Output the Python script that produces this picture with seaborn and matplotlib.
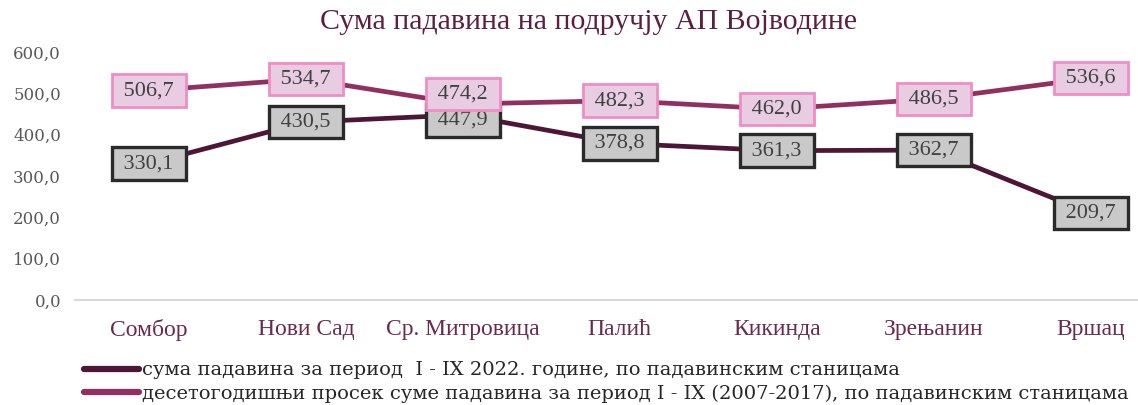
import matplotlib
matplotlib.use('Agg')
import matplotlib.pyplot as plt
import seaborn as sns
import pandas as pd

cities = ['Сомбор', 'Нови Сад', 'Ср. Митровица', 'Палић', 'Кикинда', 'Зрењанин', 'Вршац']
sum_2022 = [330.1, 430.5, 447.9, 378.8, 361.3, 362.7, 209.7]
avg_10y = [506.7, 534.7, 474.2, 482.3, 462.0, 486.5, 536.6]
label_2022 = 'сума падавина за период  I - IX 2022. године, по падавинским станицама'
label_avg = 'десетогодишњи просек суме падавина за период I - IX (2007-2017), по падавинским станицама'
title = 'Сума падавина на подручју АП Војводине'
yticks = [0, 100, 200, 300, 400, 500, 600]

df = pd.DataFrame({
    'city': cities * 2,
    'value': sum_2022 + avg_10y,
    'series': [label_2022] * len(cities) + [label_avg] * len(cities),
})

sns.set_style('white')
plt.rcParams['font.family'] = ['Liberation Serif', 'DejaVu Serif']

colors = {label_2022: '#4f1537', label_avg: '#912f60'}

def fmt(v):
    return f'{v:.1f}'.replace('.', ',')

fig = plt.figure(figsize=(11.38, 4.05), dpi=100)
ax = fig.add_axes([75 / 1138, 1 - 300 / 405, 1 - 75 / 1138, 248 / 405])

sns.lineplot(data=df, x='city', y='value', hue='series', palette=colors,
             linewidth=3.4, sort=False, ax=ax, legend=False)

ax.set_xlim(-0.47, 6.3)
ax.set_ylim(0, 600)
ax.set_yticks(yticks)
ax.set_yticklabels([fmt(v) for v in yticks], fontsize=12, color='#595959',
                   family='DejaVu Serif')
ax.set_xticks(range(len(cities)))
ax.set_xticklabels(cities, fontsize=17, color='#6b2a4d')
ax.tick_params(axis='x', length=0, pad=14)
ax.tick_params(axis='y', length=0, pad=10)
ax.set_xlabel('')
ax.set_ylabel('')
for side in ['top', 'right', 'left']:
    ax.spines[side].set_visible(False)
ax.spines['bottom'].set_color('#d9d9d9')
ax.spines['bottom'].set_linewidth(1.5)

# Ср. Митровица labels sit apart so they don't cover each other
nudge_2022 = {2: -4}
nudge_avg = {2: 7}

for i, v in enumerate(sum_2022):
    ax.annotate(f' {fmt(v)} ', (i, v), xytext=(0, nudge_2022.get(i, 0)),
                textcoords='offset points', ha='center', va='center',
                fontsize=16, color='#404040', zorder=5,
                bbox=dict(boxstyle='square,pad=0.3', fc='#c9c9c9', ec='#2a2a2a', lw=2.4))
for i, v in enumerate(avg_10y):
    ax.annotate(f' {fmt(v)} ', (i, v), xytext=(0, nudge_avg.get(i, 0)),
                textcoords='offset points', ha='center', va='center',
                fontsize=16, color='#404040', zorder=6,
                bbox=dict(boxstyle='square,pad=0.3', fc='#e8cde2', ec='#f08cc8', lw=2.0))

fig.text(588 / 1138, 1 - 22 / 405, title, ha='center', va='center',
         fontsize=21.5, color='#5c1f3f')

handles = [plt.Line2D([], [], color=colors[label_2022], lw=4.5, solid_capstyle='round'),
           plt.Line2D([], [], color=colors[label_avg], lw=4.5, solid_capstyle='round')]
fig.legend(handles, [label_2022, label_avg], loc='center left',
           bbox_to_anchor=(0.074, 1 - 382 / 405), frameon=False,
           prop={'family': 'DejaVu Serif', 'size': 14},
           handlelength=2.8, handletextpad=0.15, labelspacing=0.25,
           borderaxespad=0, borderpad=0)

fig.savefig('out.png', dpi=100)
